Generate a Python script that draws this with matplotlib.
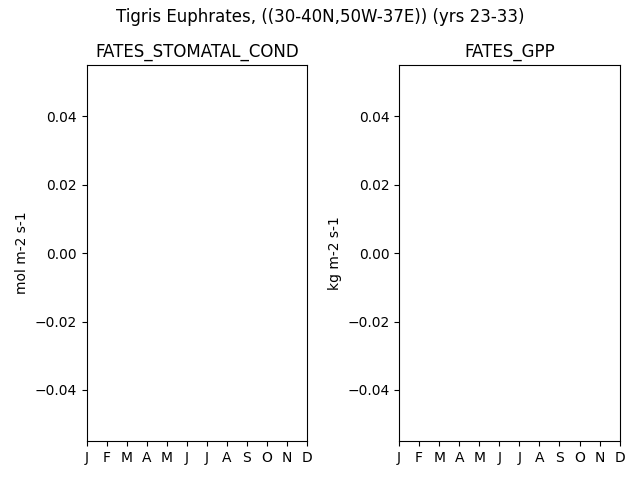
import numpy as np
import matplotlib
matplotlib.use("Agg")
import matplotlib.pyplot as plt

month_labels = ["J", "F", "M", "A", "M", "J", "J", "A", "S", "O", "N", "D"]
months = np.arange(12)

# no valid data in this region for these years
stomatal_cond = np.full(12, np.nan)
gpp = np.full(12, np.nan)

variables = ["FATES_STOMATAL_COND", "FATES_GPP"]
units = ["mol m-2 s-1", "kg m-2 s-1"]
series = [stomatal_cond, gpp]

fig, axes = plt.subplots(1, 2, figsize=(6.4, 4.8), dpi=100)
fig.suptitle("Tigris Euphrates, ((30-40N,50W-37E)) (yrs 23-33)", y=0.984)

for ax, var, unit, vals in zip(axes, variables, units, series):
    ax.plot(months, vals)
    ax.set_title(var)
    ax.set_ylabel(unit)
    ax.set_xticks(months)
    ax.set_xticklabels(month_labels)
    ax.set_xlim(months[0], months[-1])
    ax.set_ylim(-0.055, 0.055)

fig.tight_layout()
fig.subplots_adjust(top=1 - 65 / 480)
fig.savefig("out.png", dpi=100)
